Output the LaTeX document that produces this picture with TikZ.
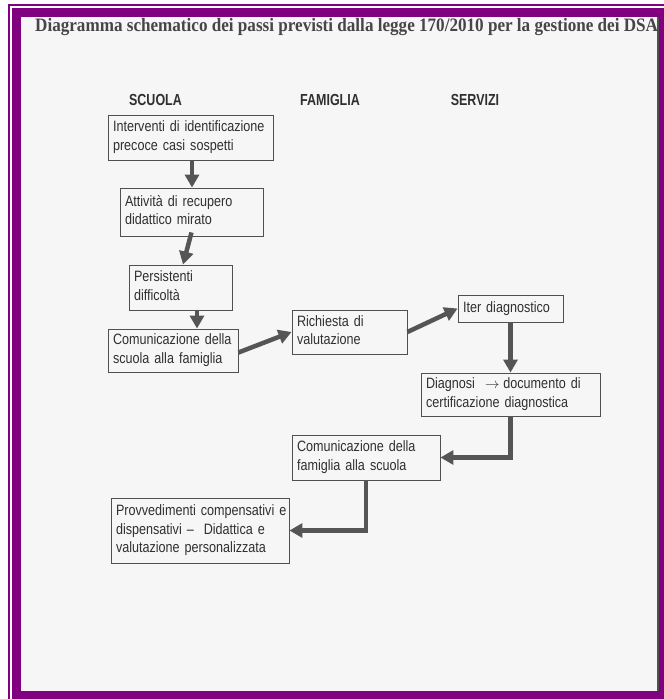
\documentclass[tikz,border=0pt]{standalone}
\usepackage{fontspec}
\setmainfont{Liberation Serif}
\newfontfamily\titlefont[FakeStretch=0.90]{Liberation Serif}
\newfontfamily\boxfont[FakeStretch=0.84,WordSpace=0.8]{Liberation Sans}
\newfontfamily\headfont[FakeStretch=0.78]{Liberation Sans}
\usetikzlibrary{arrows.meta}
\definecolor{framepurple}{RGB}{128,0,128}
\definecolor{paper}{RGB}{246,246,246}
\definecolor{inkgray}{RGB}{48,48,48}
\definecolor{titlegray}{RGB}{70,70,70}
\definecolor{arrowgray}{RGB}{85,85,85}
\definecolor{linegray}{RGB}{80,80,80}
\newcommand{\boxlines}[1]{\begin{tabular}{@{}l@{}}#1\end{tabular}}
\tikzset{
  stepbox/.style={draw=linegray, line width=0.9pt, text=inkgray, align=left,
    font=\boxfont\fontsize{15}{18.5}\selectfont, inner xsep=5pt, inner ysep=0pt},
  colhead/.style={text=inkgray, font=\headfont\bfseries\fontsize{16}{18}\selectfont, inner sep=0pt},
  flowarrow/.style={draw=arrowgray, line width=4.5pt, -{Triangle[length=13pt,width=14pt]}}
}
\begin{document}
\begin{tikzpicture}[x=1pt,y=-1pt]
\useasboundingbox (0,0) rectangle (664,699);
\fill[white] (0,0) rectangle (664,699);
% frame
\draw[framepurple, line width=2pt] (9,699) -- (9,5) -- (664,5);
\fill[framepurple] (12,8) rectangle (664,699);
\fill[paper] (21,16.5) rectangle (659,691);
\draw[linegray, line width=1.5pt] (658,16.5) -- (658,691);
% title
\node[anchor=base west, inner sep=0pt, text=titlegray, font=\titlefont\bfseries\fontsize{19}{22}\selectfont] (title) at (35,31.7)
  {Diagramma schematico dei passi previsti dalla legge 170/2010 per la gestione dei DSA};
% column heads
\node[colhead] (hs) at (155.5,100) {SCUOLA};
\node[colhead] (hf) at (330,100) {FAMIGLIA};
\node[colhead] (hv) at (475,100) {SERVIZI};
% boxes
\node[stepbox, minimum width=165pt, minimum height=45pt, text width=155pt] (b1) at (190.5,137.5)
  {\boxlines{Interventi di identificazione\\precoce casi sospetti}};
\node[stepbox, minimum width=143pt, minimum height=48pt, text width=133pt] (b2) at (191.5,212)
  {\boxlines{Attività di recupero\\didattico mirato}};
\node[stepbox, minimum width=103pt, minimum height=45pt, text width=93pt] (b3) at (180.5,287.5)
  {\boxlines{Persistenti\\difficoltà}};
\node[stepbox, minimum width=130pt, minimum height=43pt, text width=120pt] (b4) at (173,350.5)
  {\boxlines{Comunicazione della\\scuola alla famiglia}};
\node[stepbox, minimum width=115pt, minimum height=44pt, text width=105pt] (b5) at (349.5,332)
  {\boxlines{Richiesta di\\valutazione}};
\node[stepbox, minimum width=105pt, minimum height=27pt, text width=95pt] (b6) at (510.5,308.5)
  {\boxlines{Iter diagnostico}};
\node[stepbox, minimum width=179pt, minimum height=43pt, text width=169pt] (b7) at (510.5,394.5)
  {\boxlines{Diagnosi\hspace{10pt}$\rightarrow$\hspace{4pt}documento di\\certificazione diagnostica}};
\node[stepbox, minimum width=178pt, minimum height=65pt, text width=168pt] (b9) at (200,530.5)
  {\boxlines{Provvedimenti compensativi e\\dispensativi –\ \ Didattica e\\valutazione personalizzata}};
\node[stepbox, minimum width=148pt, minimum height=45pt, text width=138pt] (b8) at (366,457.5)
  {\boxlines{Comunicazione della\\famiglia alla scuola}};
% arrows
\draw[flowarrow] ([xshift=1.5pt]b1.south) -- ([xshift=1.5pt]b1.south |- b2.north);
\draw[flowarrow] ([yshift=4pt]b2.south) -- ([xshift=2.5pt]b3.north);
\draw[flowarrow] ([xshift=16.5pt]b3.south) -- ([xshift=16.5pt]b3.south |- b4.north);
\draw[flowarrow] ([yshift=-2pt]b4.east) -- (b5.west);
\draw[flowarrow] (b5.east) -- (b6.west);
\draw[flowarrow] (b6.south) -- (b6.south |- b7.north);
\draw[flowarrow] (b7.south) |- (b8.east);
\draw[flowarrow] (b8.south) |- (b9.east);
\end{tikzpicture}
\end{document}
